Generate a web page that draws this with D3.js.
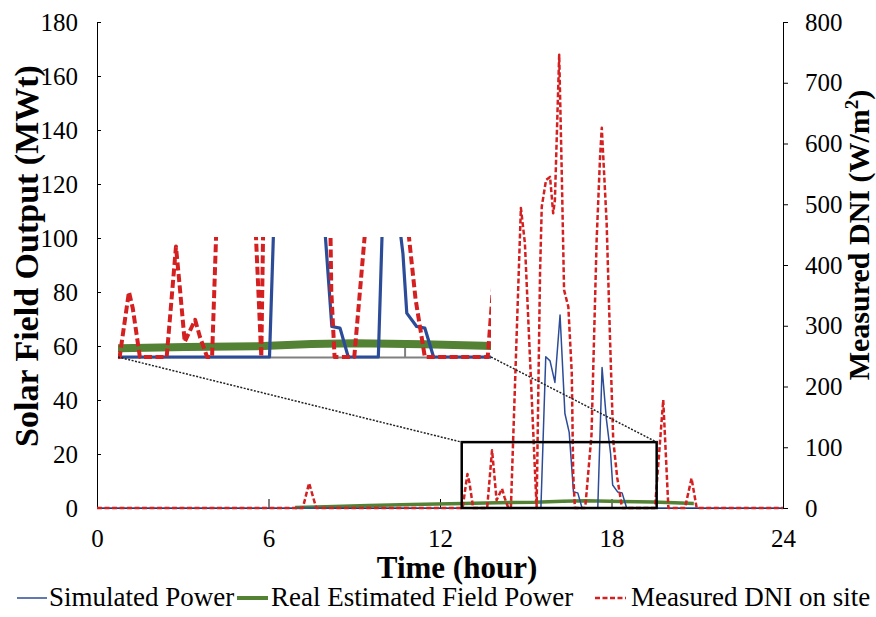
<!DOCTYPE html>
<html lang="en">
  <head>
    <meta charset="utf-8" />
    <script src="https://d3js.org/d3.v7.min.js"></script>
    <style>
      body { margin: 0; background: #fff; }
      svg text { font-family: "Liberation Serif", "Times New Roman", serif; fill: #000; }
    </style>
    <title>Solar field output</title>
  </head>
  <body>
    <div id="chart"></div>
    <script>
      // ---- values ----
      var hourTicks = [0, 6, 12, 18, 24];
      var powerTicks = [0, 20, 40, 60, 80, 100, 120, 140, 160, 180];
      var dniTicks = [0, 100, 200, 300, 400, 500, 600, 700, 800];

      // simulated power (MWt)
      var simHours = [0, 15.53, 15.7, 15.85, 16.02, 16.2, 16.37, 16.52, 16.67, 16.82, 16.97,
                      17.52, 17.67, 17.82, 17.97, 18.04, 18.22, 18.37, 18.53, 24];
      var simPower = [0, 0, 56, 54.5, 46.5, 71.5, 35, 28, 5.9, 5.6, 0,
                      0, 52, 33, 20, 8.5, 5.9, 5.6, 0, 0];

      // real estimated field power (MWt)
      var realHours = [6.93, 8, 9.5, 11, 12.8, 14, 15.3, 16.3, 17.1, 18.35, 19.45, 20.2, 20.88];
      var realPower = [0.2, 0.5, 0.9, 1.3, 1.7, 1.95, 2.1, 2.5, 2.65, 2.45, 2.2, 1.9, 1.7];

      // measured DNI (W/m2)
      var dniHours = [0, 7.2, 7.42, 7.67, 12.79, 12.96, 13.03, 13.16, 13.65, 13.82, 13.89, 13.98,
                      14.17, 14.26, 14.39, 14.48, 14.83, 14.97, 15.38, 15.5, 15.56, 15.71, 15.85,
                      15.96, 16.02, 16.17, 16.26, 16.34, 16.49, 16.61, 16.66, 16.72, 17.08, 17.3,
                      17.48, 17.6, 17.66, 17.71, 17.83, 17.95, 18.06, 18.2, 18.37, 19.52, 19.81,
                      19.99, 20.57, 20.8, 20.98, 24];
      var dniValues = [0, 0, 41, 0, 0, 56, 42, 0, 0, 95, 60, 13,
                       32, 17, 0, 0, 494, 436, 0, 387, 496, 540, 545,
                       485, 507, 746, 551, 359, 331, 222, 57, 0, 0, 120,
                       441, 578, 626, 580, 469, 276, 112, 50, 0, 0, 178,
                       0, 0, 49, 0, 0];

      var legendNames = ["Simulated Power", "Real Estimated Field Power", "Measured DNI on site"];

      // window of the main plot that is magnified in the inset (hours, MWt)
      var zoomHours = [12.76, 19.58];
      var zoomTop = 24.4;

      var serif = "'Liberation Serif', 'Times New Roman', serif";

      function pairs(hs, vs) {
        return hs.map(function (h, i) { return { t: h, v: vs[i] }; });
      }

      var series = [
        { name: legendNames[1], data: pairs(realHours, realPower), axis: "L", color: "#548235", w: 3.5, wi: 8, dash: null },
        { name: legendNames[0], data: pairs(simHours, simPower), axis: "L", color: "#2c4c98", w: 1.5, wi: 3.2, dash: null },
        { name: legendNames[2], data: pairs(dniHours, dniValues), axis: "R", color: "#d42020", w: 2.5, wi: 4, dash: "5,2.5", dashi: "8,3.5" }
      ];

      var W = 876, H = 617;
      var svg = d3.select("#chart").append("svg").attr("width", W).attr("height", H);

      var x = d3.scaleLinear().domain([0, 24]).range([97, 783]);
      var yL = d3.scaleLinear().domain([0, 180]).range([508, 22]);
      var yR = d3.scaleLinear().domain([0, 800]).range([508, 22]);

      // ---------- axes ----------
      function styleAxis(g) {
        g.attr("font-family", serif).attr("font-size", 25);
        g.selectAll("path, line").attr("stroke", "#000");
      }

      svg.append("g")
        .attr("transform", "translate(0,508)")
        .call(d3.axisBottom(x).tickValues(hourTicks).tickSizeInner(-9).tickSizeOuter(0).tickPadding(21))
        .call(styleAxis);

      svg.append("g")
        .attr("transform", "translate(97,0)")
        .call(d3.axisLeft(yL).tickValues(powerTicks).tickSizeInner(-4).tickSizeOuter(0).tickPadding(19))
        .call(styleAxis);

      svg.append("g")
        .attr("transform", "translate(783,0)")
        .call(d3.axisRight(yR).tickValues(dniTicks).tickSizeInner(5).tickSizeOuter(0).tickPadding(17))
        .call(styleAxis);

      // ---------- main lines ----------
      series.forEach(function (s) {
        var ys = s.axis === "L" ? yL : yR;
        svg.append("path")
          .datum(s.data)
          .attr("fill", "none")
          .attr("stroke", s.color)
          .attr("stroke-width", s.w)
          .attr("stroke-dasharray", s.dash)
          .attr("stroke-linejoin", "round")
          .attr("d", d3.line().x(function (d) { return x(d.t); }).y(function (d) { return ys(d.v); }));
      });

      // ---------- inset (magnified window) ----------
      var inL = 118, inR = 491, inB = 357, inT = 237;
      var k = (inR - inL) / (x(zoomHours[1]) - x(zoomHours[0]));
      var xi = d3.scaleLinear().domain(zoomHours).range([inL, inR]);
      var yiL = d3.scaleLinear().domain([0, 180]).range([inB, inB - (508 - 22) * k]);
      var yiR = d3.scaleLinear().domain([0, 800]).range(yiL.range());

      svg.append("defs").append("clipPath").attr("id", "insetClip")
        .append("rect").attr("x", inL).attr("y", inT).attr("width", inR - inL).attr("height", inB - inT + 6);

      var inset = svg.append("g").attr("clip-path", "url(#insetClip)");

      inset.append("g")
        .attr("transform", "translate(0," + inB + ")")
        .call(d3.axisBottom(xi).tickValues(hourTicks).tickSizeInner(-9).tickSizeOuter(0).tickFormat(""))
        .call(function (g) { g.selectAll("path, line").attr("stroke", "#808080").attr("stroke-width", 2); });

      series.forEach(function (s) {
        var ys = s.axis === "L" ? yiL : yiR;
        inset.append("path")
          .datum(s.data)
          .attr("fill", "none")
          .attr("stroke", s.color)
          .attr("stroke-width", s.wi)
          .attr("stroke-dasharray", s.dashi || null)
          .attr("stroke-linejoin", "round")
          .attr("d", d3.line().x(function (d) { return xi(d.t); }).y(function (d) { return ys(d.v); }));
      });

      // box around the magnified window + connectors
      var bx0 = x(zoomHours[0]), bx1 = x(zoomHours[1]), by0 = yL(zoomTop), by1 = yL(0);
      svg.append("rect")
        .attr("x", bx0).attr("y", by0)
        .attr("width", bx1 - bx0).attr("height", by1 - by0)
        .attr("fill", "none").attr("stroke", "#000").attr("stroke-width", 2.5);

      [[inL, bx0], [inR, bx1]].forEach(function (p) {
        svg.append("line")
          .attr("x1", p[0]).attr("y1", inB)
          .attr("x2", p[1]).attr("y2", by0)
          .attr("stroke", "#222").attr("stroke-width", 1.5)
          .attr("stroke-dasharray", "2,1.5");
      });

      // ---------- titles ----------
      svg.append("text")
        .attr("transform", "translate(38,256) rotate(-90)")
        .attr("text-anchor", "middle")
        .attr("font-weight", "bold")
        .attr("font-size", 34)
        .text("Solar Field Output (MWt)");

      var rt = svg.append("text")
        .attr("transform", "translate(869,235) rotate(-90)")
        .attr("text-anchor", "middle")
        .attr("font-weight", "bold")
        .attr("font-size", 30);
      rt.append("tspan").text("Measured DNI (W/m");
      rt.append("tspan").attr("font-size", 19).attr("dy", -11).text("2");
      rt.append("tspan").attr("dy", 11).text(")");

      svg.append("text")
        .attr("x", 457).attr("y", 578)
        .attr("text-anchor", "middle")
        .attr("font-weight", "bold")
        .attr("font-size", 31)
        .text("Time (hour)");

      // ---------- legend ----------
      var legendX = [[17, 47, 49], [237, 268, 271], [595, 626, 631]];
      var legendOrder = [series[1], series[0], series[2]];
      legendOrder.forEach(function (s, i) {
        var p = legendX[i];
        svg.append("line")
          .attr("x1", p[0]).attr("x2", p[1]).attr("y1", 598).attr("y2", 598)
          .attr("stroke", s.color)
          .attr("stroke-width", s.w === 3.5 ? 4 : s.w)
          .attr("stroke-dasharray", s.dash);
        svg.append("text")
          .attr("x", p[2]).attr("y", 606)
          .attr("font-size", 27)
          .text(s.name);
      });
    </script>
  </body>
</html>
